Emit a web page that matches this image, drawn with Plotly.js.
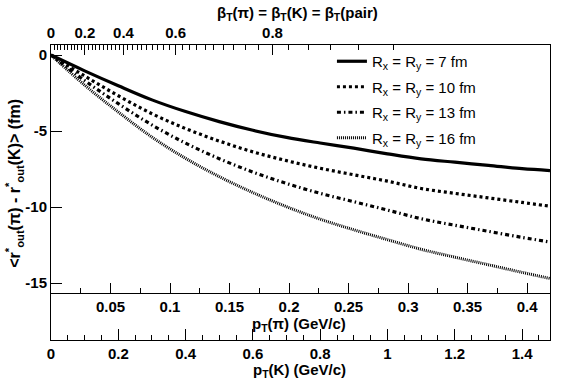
<!DOCTYPE html>
<html>
<head>
<meta charset="utf-8">
<script src="https://cdn.plot.ly/plotly-3.0.1.min.js"></script>
<style>html,body{margin:0;padding:0;background:#fff}#chart{width:567px;height:387px}</style>
</head>
<body>
<div id="chart"></div>
<script>
// ---- data ----
var pTK = [0, 0.1, 0.2, 0.3, 0.4, 0.5, 0.6, 0.7, 0.8, 0.9, 1.0, 1.1, 1.2, 1.3, 1.4, 1.483];
var shift7  = [0, -1.04, -2.02, -2.95, -3.72, -4.38, -4.95, -5.42, -5.79, -6.13, -6.50, -6.83, -7.05, -7.26, -7.48, -7.60];
var shift10 = [0, -1.38, -2.68, -3.86, -4.84, -5.66, -6.37, -6.95, -7.45, -7.88, -8.30, -8.78, -9.10, -9.40, -9.70, -9.95];
var shift13 = [0, -1.68, -3.20, -4.60, -5.80, -6.82, -7.70, -8.45, -9.10, -9.65, -10.20, -10.77, -11.20, -11.60, -12.00, -12.30];
var shift16 = [0, -1.98, -3.75, -5.40, -6.80, -8.00, -9.05, -9.98, -10.80, -11.50, -12.15, -12.78, -13.30, -13.80, -14.30, -14.70];
var seriesNames = ["R<sub>x</sub> = R<sub>y</sub> = 7 fm", "R<sub>x</sub> = R<sub>y</sub> = 10 fm",
                   "R<sub>x</sub> = R<sub>y</sub> = 13 fm", "R<sub>x</sub> = R<sub>y</sub> = 16 fm"];

// tick labels
var kTickVals = [0, 0.2, 0.4, 0.6, 0.8, 1, 1.2, 1.4];
var kTickText = ["0", "0.2", "0.4", "0.6", "0.8", "1", "1.2", "1.4"];
var piTickVals = [0.05, 0.1, 0.15, 0.2, 0.25, 0.3, 0.35, 0.4];
var piTickText = ["0.05", "0.1", "0.15", "0.2", "0.25", "0.3", "0.35", "0.4"];
var betaTickVals = [0, 0.2, 0.4, 0.6, 0.8];
var betaTickText = ["0", "0.2", "0.4", "0.6", "0.8"];
var yTickVals = [0, -5, -10, -15];
var yTickText = ["0", "-5", "-10", "-15"];

// masses (GeV/c^2)
var mPi = 0.13957, mK = 0.49368;
var kMax = 1.483;

function betaToPK(b) { return mK * b / Math.sqrt(1 - b * b); }
function kToPi(p) { return p * mPi / mK; }
var betaMinor = [];
for (var i = 1; i <= 45; i++) { betaMinor.push(betaToPK(i * 0.02)); }

var FONT = "Liberation Sans, Arial, Helvetica, sans-serif";
var tickFont = {family: FONT, size: 15, color: "#000", weight: "bold"};

var styles = [
  {color: "#000", width: 3.2, dash: "solid"},
  {color: "#000", width: 3.2, dash: "3px,3px"},
  {color: "#000", width: 3.2, dash: "4px,3px,1.5px,3px"},
  {color: "#000", width: 3.0, dash: "1px,1px"}
];
var allY = [shift7, shift10, shift13, shift16];
var traces = allY.map(function (ys, k) {
  return {x: pTK, y: ys, type: "scatter", mode: "lines", name: seriesNames[k], legendgroup: "g" + k,
          line: {color: styles[k].color, width: styles[k].width, dash: styles[k].dash, shape: "spline"},
          hoverinfo: "skip"};
});
// the same first series seen through the p_T(pi) and beta_T axes (transparent), so those axes are drawn
traces.push({x: pTK.map(kToPi), y: shift7, xaxis: "x2", yaxis: "y", type: "scatter", mode: "lines",
             line: {color: "rgba(0,0,0,0)", width: 0}, showlegend: false, hoverinfo: "skip"});
traces.push({x: pTK, y: shift7, xaxis: "x3", yaxis: "y", type: "scatter", mode: "lines",
             line: {color: "rgba(0,0,0,0)", width: 0}, showlegend: false, hoverinfo: "skip"});

var layout = {
  width: 567, height: 387,
  margin: {l: 51, r: 17, t: 45, b: 47},
  paper_bgcolor: "#fff", plot_bgcolor: "#fff",
  showlegend: true,
  legend: {x: 0.563, y: 1.0, xanchor: "left", yanchor: "top", bgcolor: "rgba(0,0,0,0)",
           borderwidth: 0, font: {family: FONT, size: 15, color: "#000"}, tracegroupgap: 3,
           itemwidth: 30},
  xaxis: {range: [0, kMax], showgrid: false, zeroline: false, showline: true, linecolor: "#000", linewidth: 1,
          ticks: "inside", ticklen: 11, tickwidth: 1, tickcolor: "#000",
          tickmode: "array", tickvals: kTickVals, ticktext: kTickText, tickfont: tickFont,
          minor: {ticks: "inside", dtick: 0.05, tick0: 0, ticklen: 5, tickcolor: "#000", tickwidth: 1}},
  xaxis2: {overlaying: "x", anchor: "free", position: 0.1593, side: "bottom",
           range: [0, kToPi(kMax)], showgrid: false, zeroline: false, showline: true, linecolor: "#000", linewidth: 1,
           ticks: "inside", ticklen: 10, tickwidth: 1, tickcolor: "#000",
           tickmode: "array", tickvals: piTickVals, ticktext: piTickText, tickfont: tickFont,
           minor: {ticks: "inside", dtick: 0.025, tick0: 0, ticklen: 5, tickcolor: "#000", tickwidth: 1}},
  xaxis3: {overlaying: "x", anchor: "y", side: "top",
           range: [0, kMax], showgrid: false, zeroline: false, showline: true, linecolor: "#000", linewidth: 1,
           ticks: "inside", ticklen: 10, tickwidth: 1, tickcolor: "#000",
           tickmode: "array", tickvals: betaTickVals.map(betaToPK), ticktext: betaTickText, tickfont: tickFont,
           minor: {ticks: "inside", tickmode: "array", tickvals: betaMinor, ticklen: 5, tickcolor: "#000", tickwidth: 1}},
  yaxis: {range: [-18.75, 0.66], showgrid: false, zeroline: false, showline: true, mirror: true,
          linecolor: "#000", linewidth: 1, ticks: "inside", ticklen: 11, tickwidth: 1, tickcolor: "#000",
          tickmode: "array", tickvals: yTickVals, ticktext: yTickText, tickfont: tickFont},
  annotations: [
    {text: "β<sub>T</sub>(π) = β<sub>T</sub>(K) = β<sub>T</sub>(pair)", xref: "paper", yref: "paper",
     x: 0.493, y: 1.108, xanchor: "center", yanchor: "middle", showarrow: false,
     font: {family: FONT, size: 15, color: "#000", weight: "bold"}},
    {text: "p<sub>T</sub>(π) (GeV/c)", xref: "paper", yref: "paper",
     x: 0.497, y: 0.052, xanchor: "center", yanchor: "middle", showarrow: false,
     font: {family: FONT, size: 15, color: "#000", weight: "bold"}},
    {text: "p<sub>T</sub>(K) (GeV/c)", xref: "paper", yref: "paper",
     x: 0.497, y: -0.105, xanchor: "center", yanchor: "middle", showarrow: false,
     font: {family: FONT, size: 15, color: "#000", weight: "bold"}},
    {text: "&lt;r<sup>*</sup><sub>out</sub>(π) - r<sup>*</sup><sub>out</sub>(K)&gt; (fm)", xref: "paper", yref: "paper",
     x: -0.074, y: 0.53, xanchor: "center", yanchor: "middle", textangle: -90, showarrow: false,
     font: {family: FONT, size: 16, color: "#000", weight: "bold"}}
  ]
};

Plotly.newPlot("chart", traces, layout, {staticPlot: true, displayModeBar: false});
</script>
</body>
</html>
